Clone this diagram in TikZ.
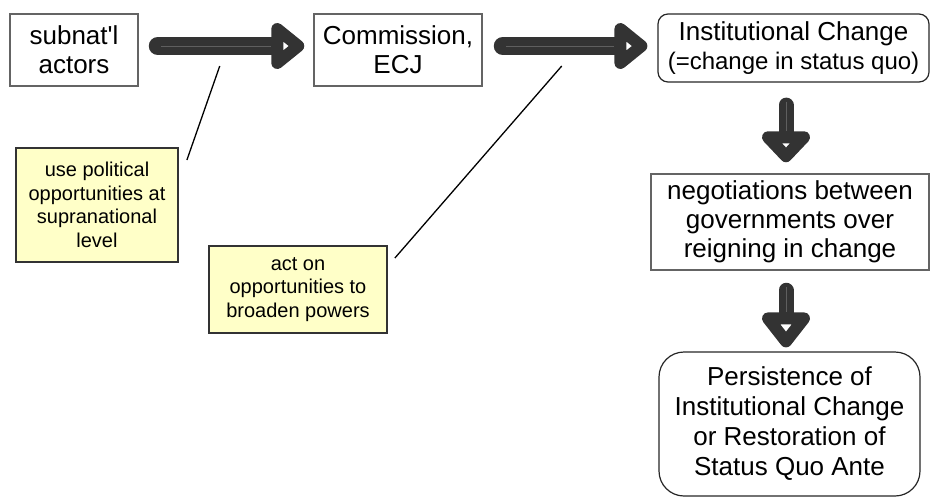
\documentclass[tikz,border=0pt]{standalone}
\usepackage{fontspec}
\setmainfont{Liberation Sans}
\usetikzlibrary{calc}
\definecolor{arrowdark}{RGB}{51,51,51}
\definecolor{arrowhl}{RGB}{95,95,95}
\definecolor{notefill}{RGB}{255,255,200}
\definecolor{boxline}{RGB}{100,100,100}
\tikzset{
  box/.style={draw=boxline, line width=1.5pt, rectangle, align=center, inner sep=0pt, font=\fontsize{26}{29}\selectfont},
  rbox/.style={draw=black!85, line width=1.2pt, rounded corners=10pt, rectangle, align=center, inner sep=0pt, font=\fontsize{26}{29}\selectfont},
  note/.style={draw=arrowdark, line width=1.8pt, fill=notefill, rectangle, align=center, inner sep=0pt, font=\fontsize{20}{23.5}\selectfont},
  hshaft/.style={draw=arrowdark, line width=18pt, line cap=round},
  vshaft/.style={draw=arrowdark, line width=15pt, line cap=round},
  ahead/.style={draw=arrowdark, line width=12pt, line join=round},
  hilite/.style={draw=arrowhl, line width=1pt},
  link/.style={draw=black, line width=1.3pt}
}
\begin{document}
\begin{tikzpicture}[x=1pt,y=-1pt]
\useasboundingbox (0,0) rectangle (931,499);
% boxes
\node[box, minimum width=128pt, minimum height=72pt] (sub) at (74,50) {subnat\textquotesingle l\\actors};
\node[box, minimum width=168pt, minimum height=72pt] (com) at (398,50) {Commission,\\ECJ};
\node[rbox, minimum width=271pt, minimum height=68pt] (inst) at (793.5,48) {Institutional Change\\{\fontsize{24}{29}\selectfont (=change in status quo)}};
\node[box, minimum width=278pt, minimum height=96pt] (neg) at (790,222) {negotiations between\\governments over\\reigning in change};
\node[rbox, rounded corners=25pt, minimum width=261pt, minimum height=144pt, font=\fontsize{26}{30}\selectfont] (per) at (789.5,424) {Persistence of\\Institutional Change\\or Restoration of\\Status Quo Ante};
% notes
\node[note, minimum width=162pt, minimum height=114pt] (n1) at (97,205) {use political\\opportunities at\\supranational\\level};
\node[note, minimum width=178pt, minimum height=87pt] (n2) at (298,289.5) {act on\\opportunities to\\broaden powers};
% links
\draw[link] ([shift={(8,-45)}]n1.east) -- ([shift={(81,16)}]sub.east);
\draw[link] ([shift={(7,-31.5)}]n2.east) -- ([shift={(79,16)}]com.east);
% arrow 1
\draw[hshaft] ([shift={(19,-4)}]sub.east) -- ([shift={(-42,-4)}]com.west);
\draw[hilite] ([shift={(22,-4)}]sub.east) -- ([shift={(-42,-4)}]com.west);
\draw[ahead] ([shift={(-36,-21)}]com.west) -- ([shift={(-15,-4)}]com.west) -- ([shift={(-36,13)}]com.west) -- cycle;
% arrow 2
\draw[hshaft] ([shift={(20,-4)}]com.east) -- ([shift={(-43,-2)}]inst.west);
\draw[hilite] ([shift={(23,-4)}]com.east) -- ([shift={(-43,-2)}]inst.west);
\draw[ahead] ([shift={(-37,-19)}]inst.west) -- ([shift={(-16,-2)}]inst.west) -- ([shift={(-37,15)}]inst.west) -- cycle;
% arrow 3
\draw[vshaft] ([shift={(-7.5,22.5)}]inst.south) -- ([shift={(-4,-42)}]neg.north);
\draw[hilite] ([shift={(-7.5,19)}]inst.south) -- ([shift={(-4,-42)}]neg.north);
\draw[ahead] ([shift={(-22,-36)}]neg.north) -- ([shift={(-4,-17)}]neg.north) -- ([shift={(14,-36)}]neg.north) -- cycle;
% arrow 4
\draw[vshaft] ([shift={(-4,19.5)}]neg.south) -- ([shift={(-3.5,-39)}]per.north);
\draw[hilite] ([shift={(-4,16)}]neg.south) -- ([shift={(-3.5,-39)}]per.north);
\draw[ahead] ([shift={(-21.5,-33)}]per.north) -- ([shift={(-3.5,-10)}]per.north) -- ([shift={(14.5,-33)}]per.north) -- cycle;
\end{tikzpicture}
\end{document}
